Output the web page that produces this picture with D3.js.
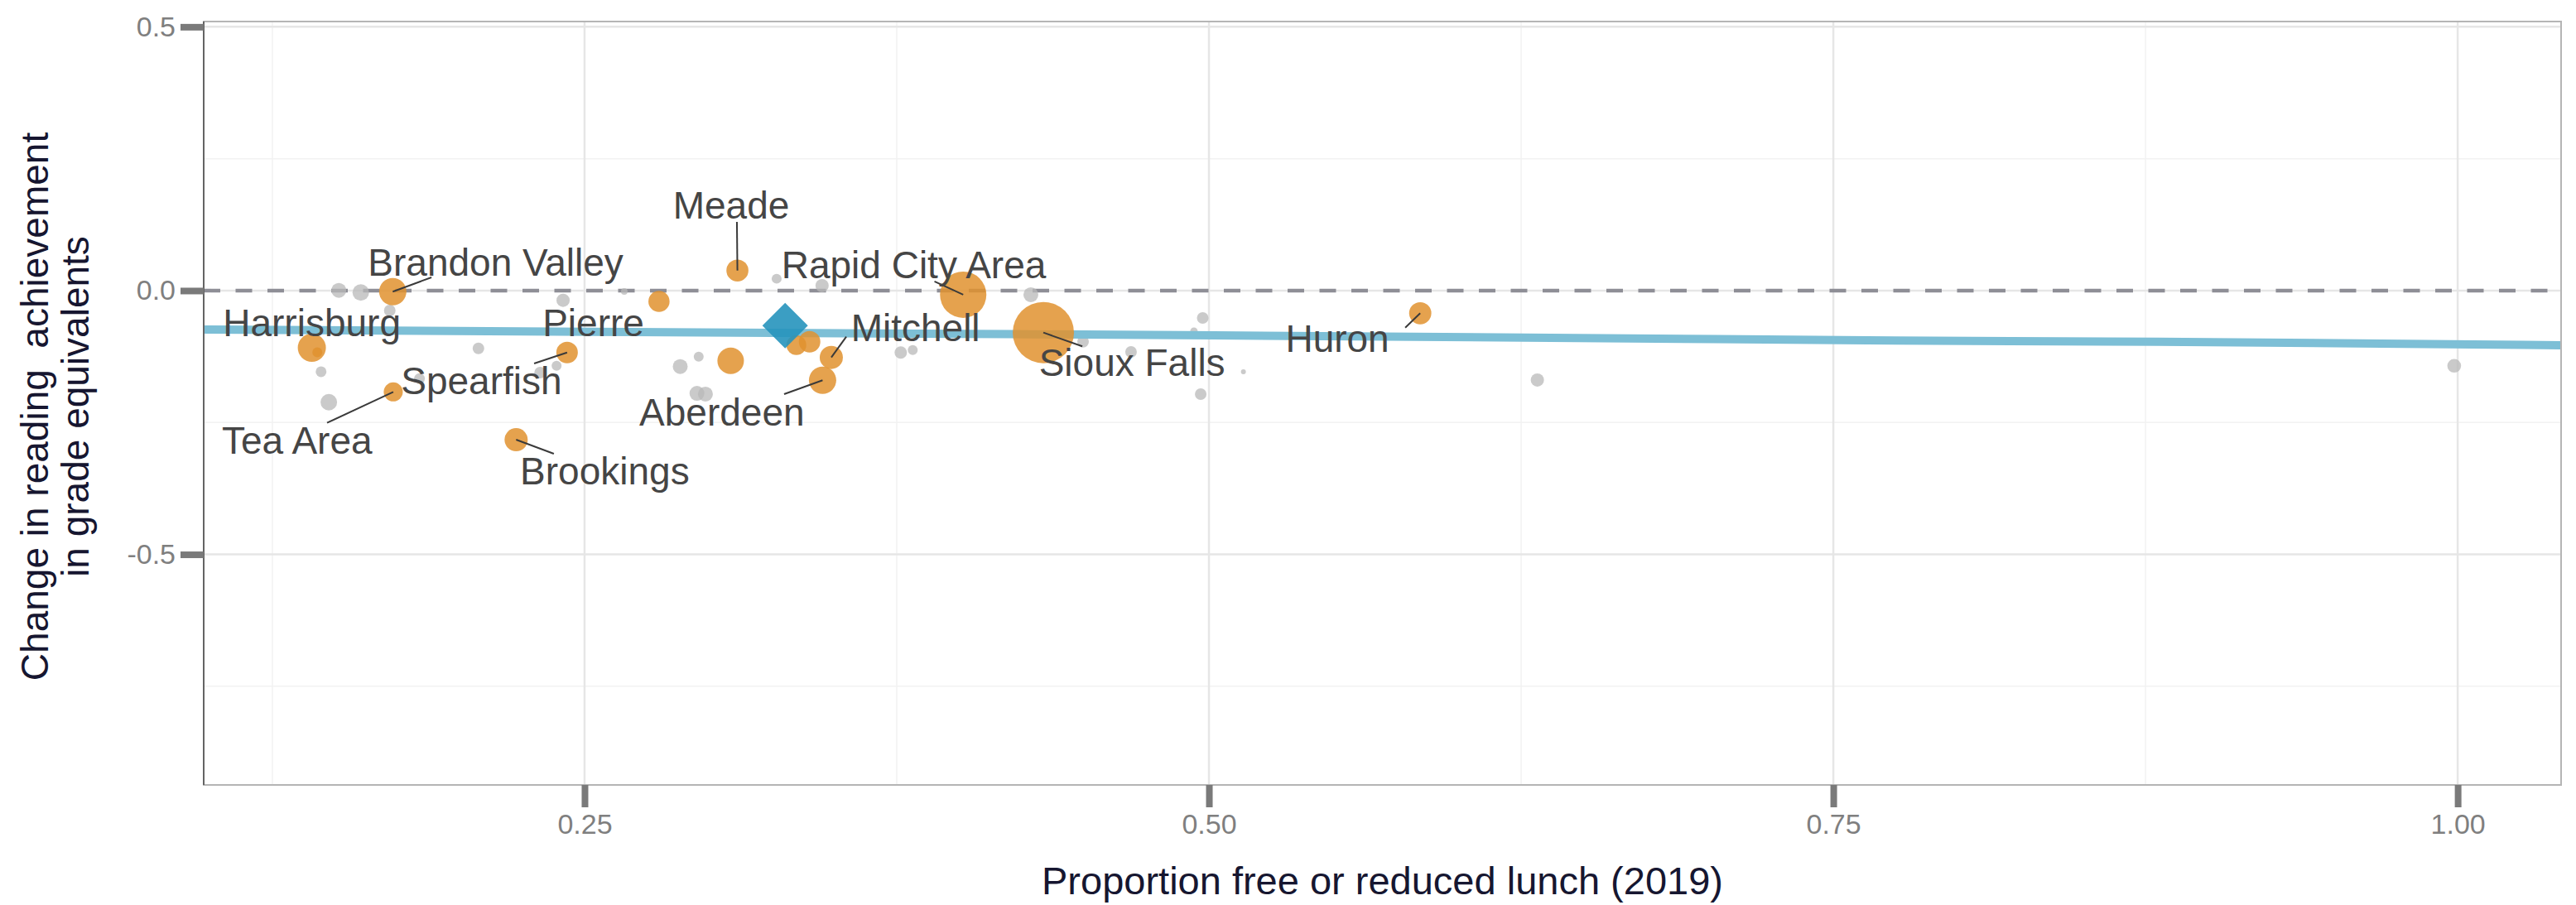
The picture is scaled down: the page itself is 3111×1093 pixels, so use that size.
<!DOCTYPE html>
<html>
<head>
<meta charset="utf-8">
<script src="https://cdn.jsdelivr.net/npm/d3@7"></script>
<style>
  body { margin: 0; background: #ffffff; }
  text { font-family: "Liberation Sans", Arial, Helvetica, sans-serif; }
</style>
</head>
<body>
<div id="chart"></div>
<script>
// Highlighted districts (orange); null = not labelled
const districtNames = ["Sioux Falls", "Rapid City Area", "Brandon Valley", "Harrisburg", "Aberdeen",
  "Brookings", "Mitchell", "Meade", "Huron", "Spearfish", "Tea Area", "Pierre", null, null, null, null];
const districtLunch = [0.4337, 0.4016, 0.1732, 0.1408, 0.3453, 0.2226, 0.3488, 0.3112, 0.5846,
  0.2430, 0.1734, 0.2798, 0.3085, 0.3348, 0.3401, 0.1430];
const districtChange = [-0.0796, -0.0078, -0.002, -0.1083, -0.170, -0.2826, -0.1267, 0.0381, -0.0429,
  -0.1173, -0.192, -0.0204, -0.133, -0.1031, -0.0969, -0.1171];
const districtEnroll = [24000, 13744, 4773, 5066, 4773, 3436, 3436, 3101, 3148, 2963, 2318, 2872,
  4488, 2524, 2963, 631];

// Other districts (grey)
const otherLunch = [0.1516, 0.1604, 0.1720, 0.2414, 0.2075, 0.1445, 0.1476, 0.1839, 0.2388, 0.2322,
  0.2659, 0.3269, 0.3451, 0.2957, 0.2883, 0.2950, 0.2984, 0.3766, 0.3814, 0.4287, 0.4496, 0.4688,
  0.4975, 0.4940, 0.4967, 0.5138, 0.6315, 0.9986];
const otherChange = [0.0005, -0.0036, -0.0377, -0.0184, -0.1095, -0.1538, -0.2115, -0.1669, -0.1424,
  -0.1554, -0.0016, 0.0225, 0.0094, -0.1251, -0.1440, -0.1947, -0.1962, -0.1173, -0.1126, -0.0078,
  -0.0969, -0.1162, -0.0518, -0.0769, -0.1962, -0.1539, -0.1695, -0.1425];
const otherEnroll = [1420, 1753, 859, 1122, 859, 741, 1753, 741, 631, 859, 280, 631, 1122, 631, 1420,
  1420, 1420, 986, 631, 1420, 859, 859, 859, 355, 859, 158, 1122, 1208];

// State average (diamond)
const stateLunch = 0.3303;
const stateChange = -0.0664;

// Fitted trend
const trendLunch = [0.0975, 0.383, 0.502, 0.679, 0.753, 0.880, 1.006, 1.0414];
const trendChange = [-0.0738, -0.0816, -0.0848, -0.091, -0.094, -0.097, -0.102, -0.1036];

// Repelled label anchors (data units) and segment ends near the label
const labelNames = ["Brandon Valley", "Harrisburg", "Pierre", "Spearfish", "Tea Area", "Brookings",
  "Meade", "Aberdeen", "Rapid City Area", "Mitchell", "Sioux Falls", "Huron"];
const labelLunch = [0.2144, 0.1408, 0.2535, 0.2087, 0.1349, 0.2581, 0.3087, 0.3050, 0.3818, 0.3825, 0.4692, 0.5514];
const labelChange = [0.0538, -0.0608, -0.0609, -0.1695, -0.2826, -0.3407, 0.1628, -0.2297, 0.0487, -0.0703, -0.1363, -0.0906];
const segLunch = [0.1887, null, null, 0.2298, 0.1469, 0.2377, 0.3110, 0.3299, 0.3901, 0.3548, 0.4493, 0.5786];
const segChange = [0.0251, null, null, -0.1381, -0.2507, -0.3093, 0.1303, -0.1962, 0.0173, -0.0874, -0.1057, -0.0702];

const xTicks = [0.25, 0.5, 0.75, 1.0];
const xMinor = [0.125, 0.375, 0.625, 0.875];
const yTicks = [0.5, 0, -0.5];
const yMinor = [0.25, -0.25, -0.75];

const width = 3111;
const height = 1093;
const margin = { top: 26, right: 18, bottom: 145, left: 246 };

const svg = d3
  .select("#chart")
  .append("svg")
  .attr("width", width)
  .attr("height", height)
  .style("display", "block");

svg.append("rect").attr("width", width).attr("height", height).attr("fill", "#ffffff");

const x = d3
  .scaleLinear()
  .domain([0.0975, 1.0414])
  .range([margin.left, width - margin.right]);

const y = d3
  .scaleLinear()
  .domain([-0.937, 0.51])
  .range([height - margin.bottom, margin.top]);

const r = d3.scaleSqrt().domain([0, 24000]).range([0, 37]);

const plotTop = margin.top;
const plotBottom = height - margin.bottom;
const plotLeft = margin.left;
const plotRight = width - margin.right;

// grid
svg.append("g")
  .selectAll("line")
  .data(yMinor)
  .enter()
  .append("line")
  .attr("x1", plotLeft).attr("x2", plotRight)
  .attr("y1", (d) => y(d)).attr("y2", (d) => y(d))
  .attr("stroke", "#f2f2f2").attr("stroke-width", 1.5);

svg.append("g")
  .selectAll("line")
  .data(xMinor)
  .enter()
  .append("line")
  .attr("y1", plotTop).attr("y2", plotBottom)
  .attr("x1", (d) => x(d)).attr("x2", (d) => x(d))
  .attr("stroke", "#f2f2f2").attr("stroke-width", 1.5);

svg.append("g")
  .selectAll("line")
  .data(yTicks)
  .enter()
  .append("line")
  .attr("x1", plotLeft).attr("x2", plotRight)
  .attr("y1", (d) => y(d)).attr("y2", (d) => y(d))
  .attr("stroke", "#e6e6e6").attr("stroke-width", 2.5);

svg.append("g")
  .selectAll("line")
  .data(xTicks)
  .enter()
  .append("line")
  .attr("y1", plotTop).attr("y2", plotBottom)
  .attr("x1", (d) => x(d)).attr("x2", (d) => x(d))
  .attr("stroke", "#e6e6e6").attr("stroke-width", 2.5);

// zero reference
svg.append("line")
  .attr("x1", plotLeft).attr("x2", plotRight)
  .attr("y1", y(0)).attr("y2", y(0))
  .attr("stroke", "#8e8e96")
  .attr("stroke-width", 4.5)
  .attr("stroke-dasharray", "20,18.5");

// grey districts
svg.append("g")
  .selectAll("circle")
  .data(otherLunch.map((v, i) => ({ x: v, y: otherChange[i], n: otherEnroll[i] })))
  .enter()
  .append("circle")
  .attr("cx", (d) => x(d.x))
  .attr("cy", (d) => y(d.y))
  .attr("r", (d) => r(d.n))
  .attr("fill", "#b8b8b8")
  .attr("fill-opacity", 0.75);

// trend line
const trendLine = d3.line()
  .x((d) => x(d[0]))
  .y((d) => y(d[1]))
  .curve(d3.curveMonotoneX);

svg.append("path")
  .datum(trendLunch.map((v, i) => [v, trendChange[i]]))
  .attr("d", trendLine)
  .attr("fill", "none")
  .attr("stroke", "#7dbfd6")
  .attr("stroke-width", 10);

// highlighted districts
const districts = districtLunch
  .map((v, i) => ({ name: districtNames[i], x: v, y: districtChange[i], n: districtEnroll[i] }))
  .sort((a, b) => b.n - a.n);

svg.append("g")
  .selectAll("circle")
  .data(districts)
  .enter()
  .append("circle")
  .attr("cx", (d) => x(d.x))
  .attr("cy", (d) => y(d.y))
  .attr("r", (d) => r(d.n))
  .attr("fill", "#e0922f")
  .attr("fill-opacity", 0.85);

// state average
svg.append("path")
  .attr("d", d3.symbol().type(d3.symbolSquare).size(1512)())
  .attr("transform", `translate(${x(stateLunch)},${y(stateChange)}) rotate(45)`)
  .attr("fill", "#2693bd")
  .attr("fill-opacity", 0.9);

// label segments
const labels = labelNames.map((name, i) => {
  const p = districts.find((d) => d.name === name);
  return { name, lx: labelLunch[i], ly: labelChange[i], sx: segLunch[i], sy: segChange[i], px: p.x, py: p.y };
});

svg.append("g")
  .selectAll("line")
  .data(labels.filter((d) => d.sx !== null))
  .enter()
  .append("line")
  .attr("x1", (d) => x(d.sx))
  .attr("y1", (d) => y(d.sy))
  .attr("x2", (d) => x(d.px))
  .attr("y2", (d) => y(d.py))
  .attr("stroke", "#3a3a3a")
  .attr("stroke-width", 2);

svg.append("g")
  .selectAll("text")
  .data(labels)
  .enter()
  .append("text")
  .attr("x", (d) => x(d.lx))
  .attr("y", (d) => y(d.ly))
  .attr("dy", "0.36em")
  .attr("text-anchor", "middle")
  .attr("font-size", "46px")
  .attr("fill", "#454545")
  .text((d) => d.name);

// panel border
svg.append("rect")
  .attr("x", plotLeft).attr("y", plotTop)
  .attr("width", plotRight - plotLeft).attr("height", plotBottom - plotTop)
  .attr("fill", "none").attr("stroke", "#b5b5b5").attr("stroke-width", 2);
svg.append("line")
  .attr("x1", plotLeft).attr("x2", plotLeft)
  .attr("y1", plotTop).attr("y2", plotBottom)
  .attr("stroke", "#4a4a4a").attr("stroke-width", 1.5);

// axes
const yAxis = svg.append("g")
  .attr("transform", `translate(${plotLeft},0)`)
  .call(d3.axisLeft(y).tickValues(yTicks).tickSize(28).tickPadding(6).tickFormat(d3.format(".1f")));
const xAxis = svg.append("g")
  .attr("transform", `translate(0,${plotBottom})`)
  .call(d3.axisBottom(x).tickValues(xTicks).tickSize(27).tickPadding(8).tickFormat(d3.format(".2f")));

[yAxis, xAxis].forEach((ax) => {
  ax.select(".domain").remove();
  ax.selectAll(".tick line").attr("stroke", "#7a7a7a").attr("stroke-width", 8);
  ax.selectAll(".tick text")
    .attr("fill", "#7f7f7f")
    .attr("font-size", "34px")
    .style("font-family", "'Liberation Sans', Arial, sans-serif");
});
yAxis.selectAll(".tick text").text((d) => d3.format(".1f")(d).replace("−", "-"));

// axis titles
svg.append("text")
  .attr("x", (plotLeft + plotRight) / 2)
  .attr("y", 1080)
  .attr("text-anchor", "middle")
  .attr("font-size", "47px")
  .attr("fill", "#161630")
  .text("Proportion free or reduced lunch (2019)");

const yTitle = svg.append("text")
  .attr("transform", `translate(58,${(plotTop + plotBottom) / 2 + 4}) rotate(-90)`)
  .attr("text-anchor", "middle")
  .attr("font-size", "46px")
  .attr("fill", "#161630")
  .style("white-space", "pre");
yTitle.append("tspan").attr("x", 0).attr("y", 0).text("Change in reading  achievement");
yTitle.append("tspan").attr("x", 0).attr("y", 49).text("in grade equivalents");
</script>
</body>
</html>
